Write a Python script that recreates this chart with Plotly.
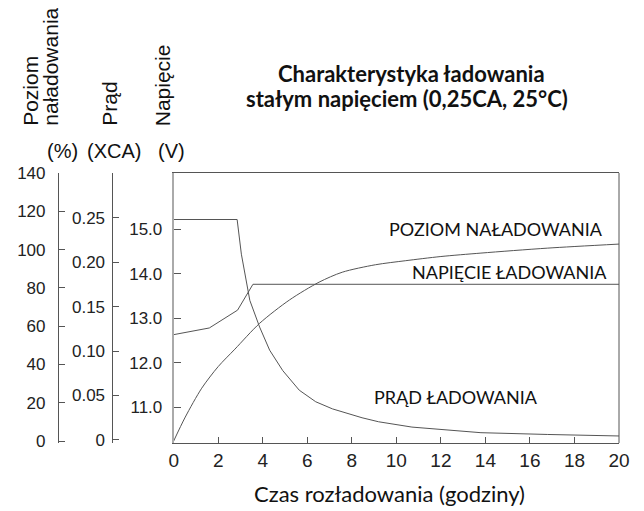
import plotly.graph_objects as go

# ---- data ----
hours_voltage = [0, 1.6, 2.87, 3.56, 20]
voltage = [12.63, 12.78, 13.18, 13.76, 13.76]

hours_current = [0, 2.85, 3.04, 3.34, 3.42, 3.86, 4.31, 4.90, 5.64, 6.38, 7.13, 8.46, 9.2, 10.7, 13.8, 16.8, 20]
current = [0.248, 0.248, 0.209, 0.168, 0.157, 0.127, 0.101, 0.078, 0.056, 0.043, 0.035, 0.025, 0.0205, 0.0145, 0.0082, 0.0062, 0.0045]

hours_charge = [0, 0.52, 1.26, 2.0, 2.75, 3.86, 5.2, 6.53, 7.57, 9.06, 10.4, 12.0, 13.8, 16.8, 20]
charge = [0, 12.5, 27.6, 38.9, 48.0, 61.5, 73.7, 83.0, 88.2, 92.1, 94.2, 96.4, 98.2, 100.8, 102.9]

x_ticks = list(range(0, 21, 2))
volt_ticks = [11, 12, 13, 14, 15]
volt_labels = ["11.0", "12.0", "13.0", "14.0", "15.0"]
curr_ticks = [0, 0.05, 0.10, 0.15, 0.20, 0.25, 0.30]
curr_labels = ["0", "0.05", "0.10", "0.15", "0.20", "0.25", ""]
pct_ticks = [0, 20, 40, 60, 80, 100, 120, 140]
pct_labels = [str(v) for v in pct_ticks]

# page has an 8px body margin -> figure is drawn 8px lower/right
OFF = 8
W, H = 644 - OFF, 511 - OFF
L, R, T, B = 0, 25, 173 - OFF, 68
PW, PH = W - L - R, H - T - B


def px(x):
    return (x - OFF) / PW


def py(y):
    return (H - B - (y - OFF)) / PH


LINE = "#555555"
TXT = "#222222"
ARIAL = "Liberation Sans, Arial, sans-serif"
CAL = "Lato, Open Sans, sans-serif"

fig = go.Figure()
fig.add_trace(go.Scatter(x=hours_charge, y=charge, yaxis="y3", mode="lines",
                         line=dict(color=LINE, width=1, shape="spline", smoothing=0.8),
                         showlegend=False, hoverinfo="skip"))
fig.add_trace(go.Scatter(x=hours_current, y=current, yaxis="y2", mode="lines",
                         line=dict(color=LINE, width=1),
                         showlegend=False, hoverinfo="skip"))
fig.add_trace(go.Scatter(x=hours_voltage, y=voltage, yaxis="y", mode="lines",
                         line=dict(color=LINE, width=1),
                         showlegend=False, hoverinfo="skip"))

fig.update_layout(
    width=W, height=H,
    margin=dict(l=L, r=R, t=T, b=B, pad=0),
    paper_bgcolor="white", plot_bgcolor="white",
    xaxis=dict(domain=[(170 - OFF) / PW, 1], range=[0, 20], tickvals=x_ticks,
               ticks="inside", ticklen=6, tickcolor=LINE,
               showline=True, linecolor=LINE, linewidth=1, mirror=True,
               showgrid=False, zeroline=False,
               tickfont=dict(family=ARIAL, size=19, color=TXT)),
    yaxis=dict(range=[10.199, 16.257], tickvals=volt_ticks, ticktext=volt_labels,
               ticks="inside", ticklen=7, tickcolor=LINE,
               showline=True, linecolor="#aaaaaa", linewidth=2,
               showgrid=False, zeroline=False, ticklabelstandoff=6,
               tickfont=dict(family=ARIAL, size=17, color=TXT)),
    yaxis2=dict(overlaying="y", anchor="free", position=(108.3 - OFF) / PW, side="left",
                range=[-0.0034, 0.3003], tickvals=curr_ticks, ticktext=curr_labels,
                ticks="inside", ticklen=6, tickcolor=LINE,
                showline=True, linecolor=LINE, linewidth=1,
                showgrid=False, zeroline=False, ticklabelstandoff=4,
                tickfont=dict(family=ARIAL, size=17, color=TXT)),
    yaxis3=dict(overlaying="y", anchor="free", position=(53.3 - OFF) / PW, side="left",
                range=[-1.04, 140.05], tickvals=pct_ticks, ticktext=pct_labels,
                ticks="inside", ticklen=6, tickcolor=LINE,
                showline=True, linecolor=LINE, linewidth=1,
                showgrid=False, zeroline=False, ticklabelstandoff=9,
                tickfont=dict(family=ARIAL, size=17, color=TXT)),
    shapes=[dict(type="line", xref="paper", yref="paper", x0=1, x1=1, y0=0, y1=1,
                 line=dict(color=LINE, width=1))],
)

ann = []


def add(text, x, y, size, family, xanchor="center", yanchor="middle", angle=0, bold=False):
    ann.append(dict(text=text, x=px(x), y=py(y), xref="paper", yref="paper",
                    xanchor=xanchor, yanchor=yanchor, textangle=angle, showarrow=False,
                    font=dict(family=family, size=size, color="#111111",
                              weight="bold" if bold else "normal")))


add("Charakterystyka ładowania", 410, 74, 22, CAL, bold=True)
add("stałym napięciem (0,25CA, 25°C)", 405, 99, 22, CAL, bold=True)
add("Czas rozładowania (godziny)", 388, 493, 22, CAL)
add("POZIOM NAŁADOWANIA", 495, 229, 18, CAL)
add("NAPIĘCIE ŁADOWANIA", 509, 272, 18, CAL)
add("PRĄD ŁADOWANIA", 455, 397, 18, CAL)

add("Poziom", 26, 128, 21, ARIAL, yanchor="bottom", angle=-90)
add("naładowania", 46, 128, 21, ARIAL, yanchor="bottom", angle=-90)
add("Prąd", 105.5, 128, 21, ARIAL, yanchor="bottom", angle=-90)
add("Napięcie", 159.5, 128, 21, ARIAL, yanchor="bottom", angle=-90)

add("(%)", 58, 151, 20, ARIAL)
add("(XCA)", 110, 151, 20, ARIAL)
add("(V)", 167.5, 151, 20, ARIAL)

fig.update_layout(annotations=ann)
fig.write_html("out.html")
